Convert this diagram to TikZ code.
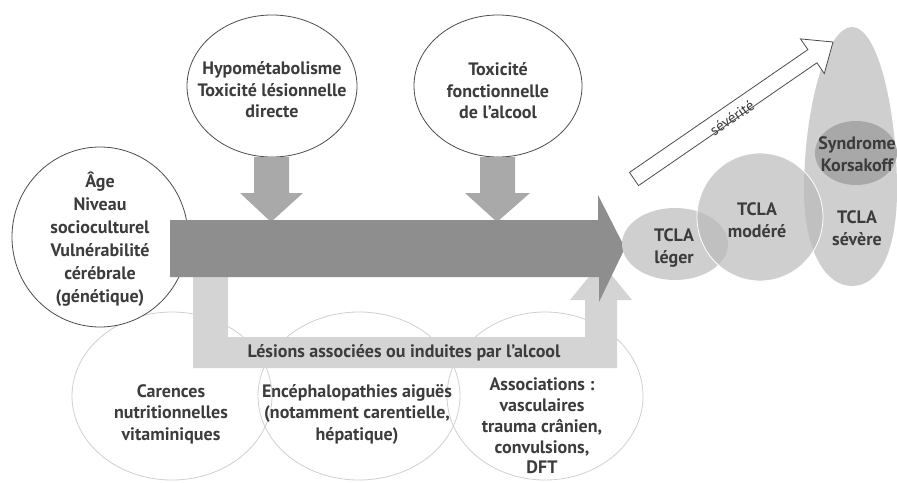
\documentclass[tikz,border=0pt]{standalone}
\usepackage{fontspec}
\setmainfont{PT Sans}
\usetikzlibrary{shapes.geometric}
\definecolor{txt}{HTML}{3C3C3C}
\definecolor{darkarrow}{HTML}{8E8E8E}
\definecolor{midarrow}{HTML}{A9A9A9}
\definecolor{lightarrow}{HTML}{D4D4D4}
\definecolor{faint}{HTML}{CFCFCF}
\definecolor{cluster}{HTML}{CFCFCF}
\definecolor{clusterov}{HTML}{C0C0C0}
\definecolor{korsa}{HTML}{A8A8A8}
\tikzset{
  oval/.style={shape=ellipse, inner sep=0pt},
  topoval/.style={oval, draw=black!70, line width=0.8pt, fill=white},
  botoval/.style={oval, draw=faint, line width=0.8pt},
  lbl/.style={text=txt, align=center, inner sep=0pt},
}
\begin{document}
\begin{tikzpicture}[x=1pt,y=-1pt,font=\fontsize{18}{21.5}\selectfont\bfseries]
\useasboundingbox (0,0) rectangle (897,482);
% bottom ellipses
\node[botoval, minimum width=200pt, minimum height=168pt] (car) at (172,396) {};
\node[botoval, minimum width=202pt, minimum height=168pt] (enc) at (359,396) {};
\node[botoval, minimum width=196pt, minimum height=168pt] (ass) at (545,396) {};
\node[lbl] (tcar) at (171,414) {Carences\\nutritionnelles\\vitaminiques};
\node[lbl] (tenc) at (357,414) {Encéphalopathies aiguës\\(notamment carentielle,\\hépatique)};
\node[lbl, font=\fontsize{18}{20.8}\selectfont\bfseries] (tass) at (542,426) {Associations :\\vasculaires\\trauma crânien,\\convulsions,\\DFT};
% top ellipses
\node[topoval, minimum width=170pt, minimum height=142pt] (hyp) at (272,86) {};
\node[lbl] (thyp) at (272,90) {Hypométabolisme\\Toxicité lésionnelle\\directe};
\node[topoval, minimum width=168pt, minimum height=142pt] (tox) at (498,86) {};
\node[lbl] (ttox) at (498,91) {Toxicité\\fonctionnelle\\de l’alcool};
% down arrows
\fill[midarrow] (254,157) -- (289,157) -- (289,193) -- (303,193) -- (271,222) -- (240,193) -- (254,193) -- cycle;
\fill[midarrow] (480,157) -- (515,157) -- (515,193) -- (530,193) -- (497,222) -- (465,193) -- (480,193) -- cycle;
% age ellipse
\node[topoval, minimum width=176pt, minimum height=180pt] (age) at (100,237) {};
\node[lbl, font=\fontsize{18}{23}\selectfont\bfseries] (tage) at (100,239) {Âge\\Niveau\\socioculturel\\Vulnérabilité\\cérébrale\\(génétique)};
% light L arrow
\fill[lightarrow] (193,270) -- (193,368) -- (617,368) -- (617,300) -- (632,300) -- (601,262) -- (570,300) -- (585,300) -- (585,337) -- (228,337) -- (228,270) -- cycle;
\node[lbl] (tles) at (404,353) {Lésions associées ou induites par l’alcool};
% dark arrow
\fill[darkarrow] (170,220) -- (598,220) -- (598,195) -- (625,248) -- (599,302) -- (599,277) -- (170,277) -- cycle;
% cluster
\path[fill=cluster] (852,27) .. controls (826,27) and (804,110) .. (804,190) .. controls (804,250) and (825,286) .. (852,286) .. controls (880,286) and (897,250) .. (897,190) .. controls (897,110) and (878,27) .. (852,27) -- cycle;
\fill[cluster] (760,217) ellipse [x radius=63, y radius=64];
\fill[cluster] (675,244) ellipse [x radius=53, y radius=36];
\begin{scope}
  \clip (760,217) ellipse [x radius=63, y radius=64];
  \fill[clusterov] (675,244) ellipse [x radius=53, y radius=36];
  \path[fill=clusterov] (852,27) .. controls (826,27) and (804,110) .. (804,190) .. controls (804,250) and (825,286) .. (852,286) .. controls (880,286) and (897,250) .. (897,190) .. controls (897,110) and (878,27) .. (852,27) -- cycle;
\end{scope}
\draw[white, line width=0.8pt] (760,217) ellipse [x radius=63, y radius=64];
\fill[korsa] (856,153) ellipse [x radius=41, y radius=32];
\node[lbl] (tleg) at (674,248) {TCLA\\léger};
\node[lbl] (tmod) at (757,220) {TCLA\\modéré};
\node[lbl] (tsev) at (857,228) {TCLA\\sévère};
\node[lbl] (tkor) at (857,154) {Syndrome\\Korsakoff};
% severity arrow
\draw[black!70, line width=0.8pt, fill=white] (638.5,185.6) -- (816.9,62.8) -- (824.3,73.5) -- (833,42) -- (800.5,38.9) -- (807.9,49.6) -- (629.5,172.4) -- cycle;
\node[lbl, font=\fontsize{15}{17}\selectfont, rotate=34.5] (tsevr) at (732,118) {sévérité};
\end{tikzpicture}
\end{document}
